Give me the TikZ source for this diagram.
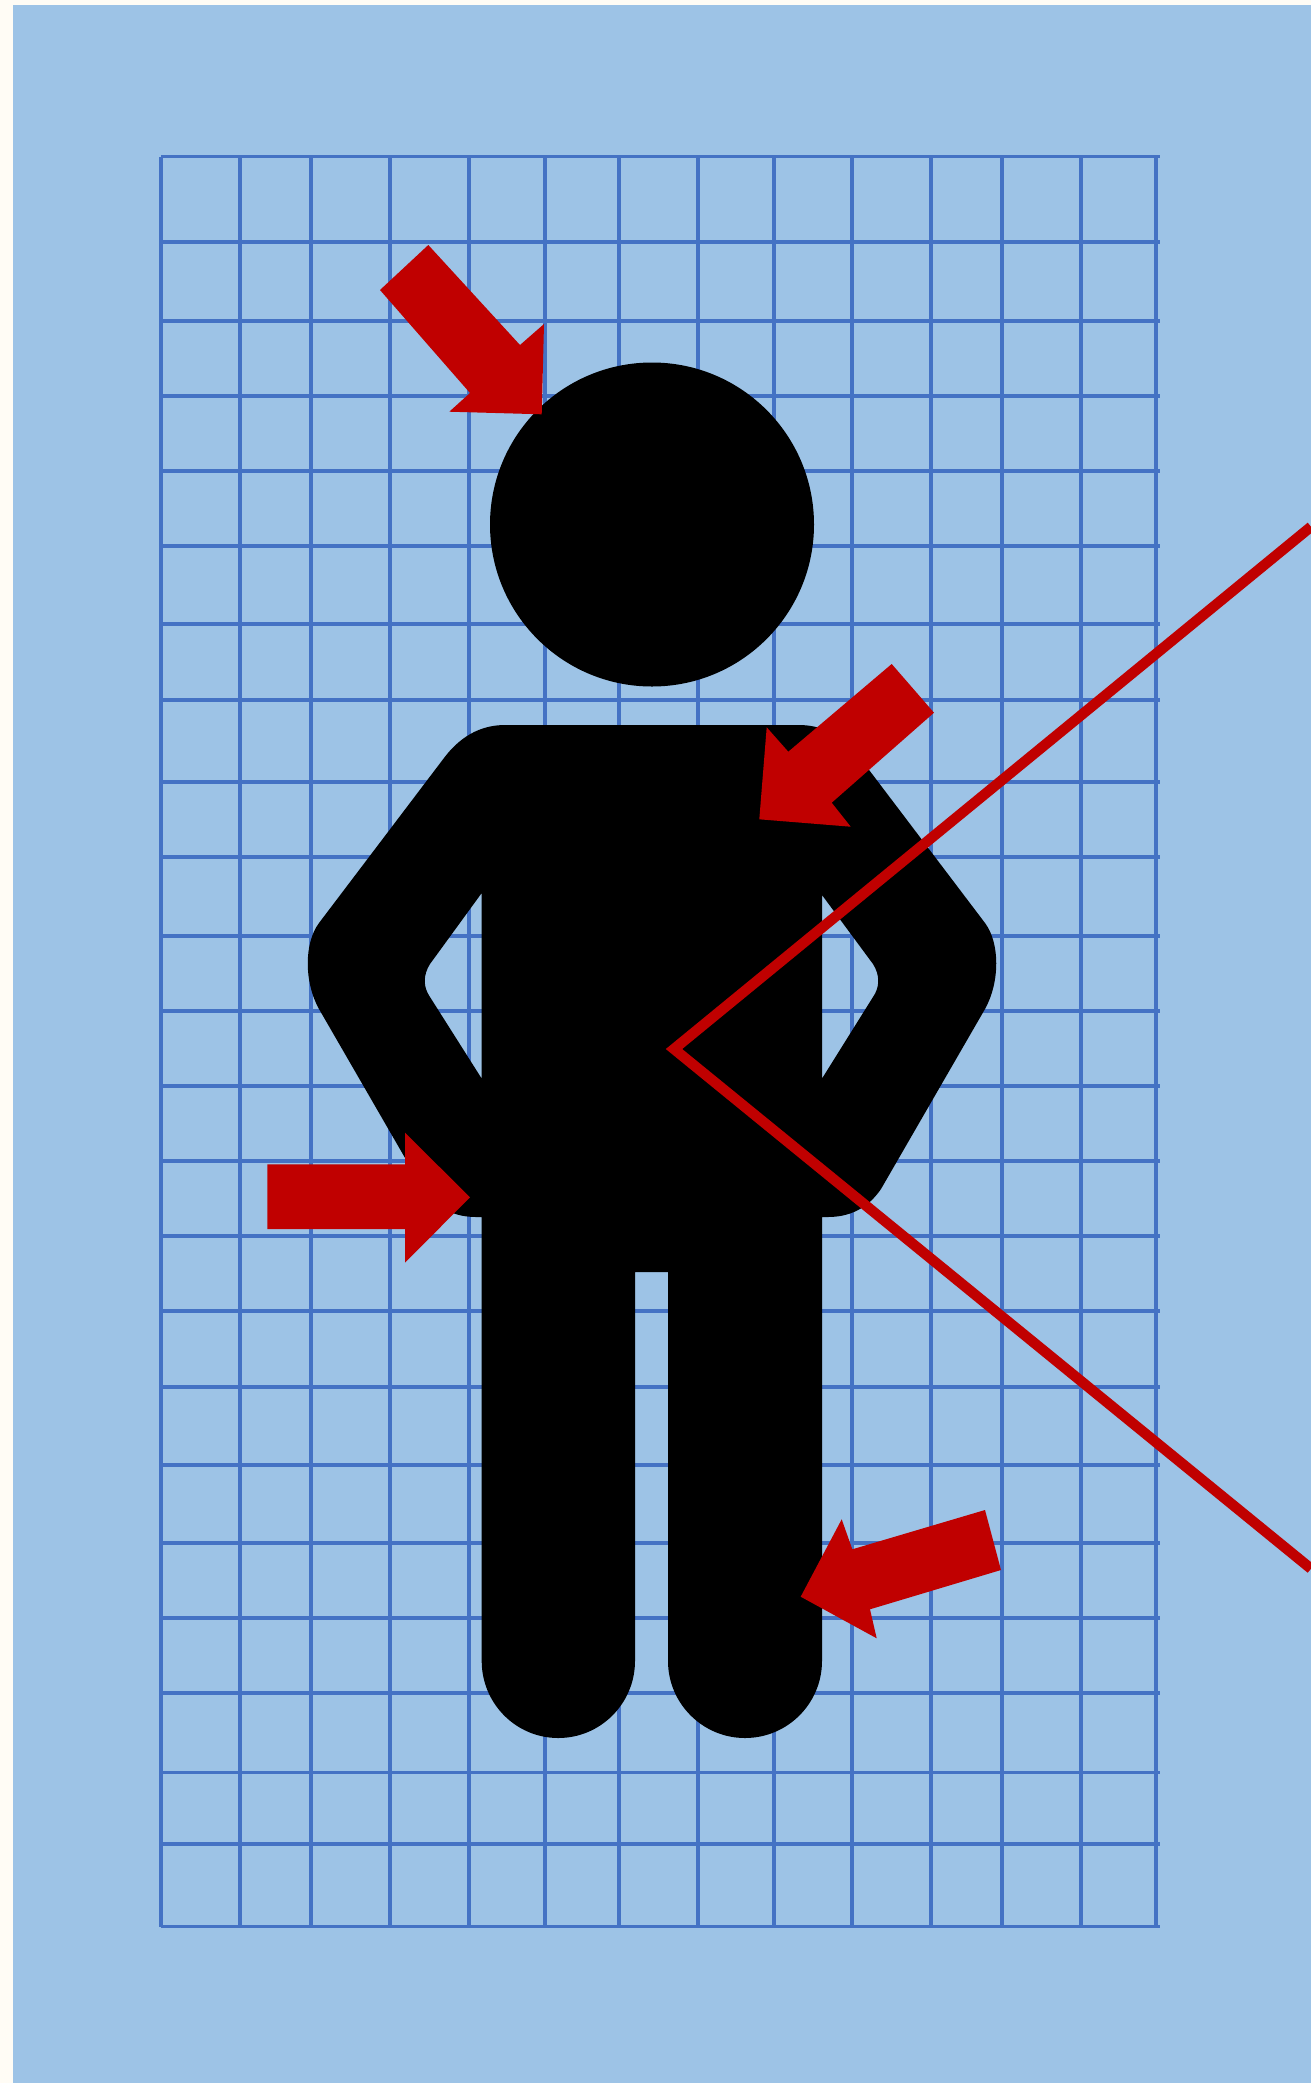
\documentclass[tikz,border=0pt]{standalone}
\definecolor{pageCream}{HTML}{FFFCF5}
\definecolor{skyBlue}{HTML}{9DC3E6}
\definecolor{gridBlue}{HTML}{4472C4}
\definecolor{alarmRed}{HTML}{C00000}

\begin{document}
\begin{tikzpicture}[
  x=0.5pt,y=-0.5pt,
  gridline/.style ={draw=gridBlue,line width=1.7pt},
  figure/.style   ={fill=black,even odd rule},
  pointer/.style  ={fill=alarmRed},
  chevron/.style  ={draw=alarmRed,line width=5.2pt,miter limit=10}]

\useasboundingbox (0,0) rectangle (1311,2083);

% --- page and backdrop ---
\fill[pageCream] (0,0) rectangle (1311,2083);
\fill[skyBlue] (13,5) rectangle (1311,2083);

% --- grid ---
\foreach \gx in {161,240,311,390,469,545,619,698,774,852,931,1002,1081,1156}
  \draw[gridline] (\gx,156.7) -- (\gx,1926.7);
\foreach \gy in {156.7,242,321,396,471,546,624,700,782,857,936,1011,1086,1161,
                 1236,1311,1387,1465,1543,1618,1693,1772.7,1844,1926.7}
  \draw[gridline] (161,\gy) -- (1160,\gy);

% --- head ---
\fill[black] (652,524.5) circle [radius=81pt];

% --- body with legs, arm gaps cut out ---
\path[figure]
  (505,725) -- (799,725)
  .. controls (825,725) and (845,738) .. (860,758)
  -- (985,923)
  .. controls (1000,943) and (1000,982) .. (985,1009)
  -- (881,1189)
  .. controls (868,1208) and (850,1217) .. (828,1217)
  -- (822,1217) -- (822,1661)
  .. controls (822,1703.4) and (787.6,1738) .. (745,1738)
  .. controls (702.6,1738) and (668,1703.4) .. (668,1661)
  -- (668,1272) -- (635,1272) -- (635,1661)
  .. controls (635,1703.4) and (600.6,1738) .. (558.3,1738)
  .. controls (515.9,1738) and (481.7,1703.4) .. (481.7,1661)
  -- (481.7,1217) -- (476,1217)
  .. controls (454,1217) and (436,1208) .. (423,1189)
  -- (319,1009)
  .. controls (304,982) and (304,943) .. (319,923)
  -- (444,758)
  .. controls (459,738) and (479,725) .. (505,725) -- cycle
  (481.7,893) -- (430,964)
  .. controls (423,975) and (423,987) .. (430,997)
  -- (481.7,1078.6) -- cycle
  (822,895) -- (873,964)
  .. controls (880,975) and (880,987) .. (873,997)
  -- (822,1078.6) -- cycle;

% --- the four pointers ---
\fill[pointer] (428.3,245) -- (380,290) -- (470,393) -- (449.3,411.7)
  -- (541.7,414.3) -- (544,324) -- (520,345) -- cycle;
\fill[pointer] (891.7,664) -- (934,712.7) -- (831.7,802.7) -- (850.7,826.7)
  -- (759.3,819.3) -- (766.7,727.3) -- (788.3,751.7) -- cycle;
\fill[pointer] (267.3,1164.3) -- (267.3,1229) -- (405,1229) -- (405,1262.7)
  -- (470,1197.3) -- (405,1132.7) -- (405,1164.3) -- cycle;
\fill[pointer] (985,1510) -- (1001,1570) -- (870,1609.3) -- (876.7,1638.3)
  -- (800.7,1596.7) -- (841.7,1519.3) -- (852.3,1549.3) -- cycle;

% --- long red angle ---
\draw[chevron] (1311,526.7) -- (674,1049) -- (1311,1568.7);

\end{tikzpicture}
\end{document}
